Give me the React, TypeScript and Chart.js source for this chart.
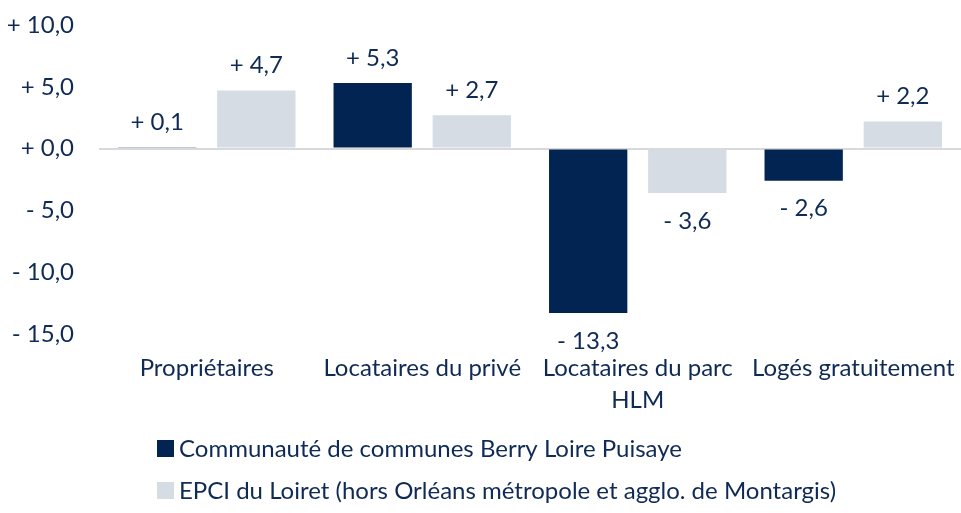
import React, { useEffect, useRef } from "react";
import { Chart, registerables } from "chart.js";

Chart.register(...registerables);

const categories: (string | string[])[] = [
  "Propriétaires",
  "Locataires du privé",
  ["Locataires du parc", "HLM"],
  "Logés gratuitement",
];
const seriesLabels = [
  "Communauté de communes Berry Loire Puisaye",
  "EPCI du Loiret (hors Orléans métropole et agglo. de Montargis)",
];
const ccValues = [0.1, 5.3, -13.3, -2.6];
const epciValues = [4.7, 2.7, -3.6, 2.2];
const yTicks = [10, 5, 0, -5, -10, -15];

const DARK = "#022453";
const LIGHT = "#d6dce4";
const TEXT = "#0f2a55";
const FONT = "Lato, 'Liberation Sans', sans-serif";
const FS = 24;

const fmt = (v: number) =>
  (v >= 0 ? "+ " : "- ") + Math.abs(v).toFixed(1).replace(".", ",");

const valueLabels = {
  id: "valueLabels",
  afterDatasetsDraw(chart: any) {
    const ctx = chart.ctx;
    ctx.save();
    ctx.font = `${FS}px ${FONT}`;
    ctx.fillStyle = TEXT;
    ctx.textAlign = "center";
    ctx.textBaseline = "middle";
    chart.data.datasets.forEach((ds: any, di: number) => {
      const meta = chart.getDatasetMeta(di);
      meta.data.forEach((el: any, i: number) => {
        const v = ds.data[i];
        const y = v >= 0 ? el.y - 25 : el.y + 28;
        ctx.fillText(fmt(v), el.x, y);
      });
    });
    ctx.restore();
  },
};

const customLegend = {
  id: "customLegend",
  afterDraw(chart: any) {
    const ctx = chart.ctx;
    ctx.save();
    ctx.font = `${FS}px ${FONT}`;
    ctx.textAlign = "left";
    ctx.textBaseline = "middle";
    const rows = [448, 490];
    chart.data.datasets.forEach((ds: any, di: number) => {
      const cy = rows[di];
      ctx.fillStyle = ds.backgroundColor;
      ctx.fillRect(157, cy - 8, 17, 17);
      ctx.fillStyle = TEXT;
      ctx.fillText(ds.label, 179, cy + 1);
    });
    ctx.restore();
  },
};

function App() {
  const ref = useRef<HTMLCanvasElement>(null);
  useEffect(() => {
    if (!ref.current) return;
    const chart = new Chart(ref.current, {
      type: "bar",
      data: {
        labels: categories,
        datasets: [
          { label: seriesLabels[0], data: ccValues, backgroundColor: DARK },
          { label: seriesLabels[1], data: epciValues, backgroundColor: LIGHT },
        ],
      },
      options: {
        animation: false,
        responsive: false,
        maintainAspectRatio: false,
        layout: { padding: { top: 25, bottom: 100, left: 0, right: -5 } },
        datasets: {
          bar: { categoryPercentage: 0.92, barPercentage: 0.79 },
        },
        plugins: {
          legend: { display: false },
          tooltip: { enabled: false },
        },
        scales: {
          x: {
            grid: { display: false, drawTicks: false },
            border: { display: false },
            ticks: {
              color: TEXT,
              font: { family: FONT, size: FS, lineHeight: 1.33 },
              padding: 18,
              maxRotation: 0,
              autoSkip: false,
            },
            afterFit(scale: any) {
              scale.height = 79;
              scale.paddingLeft = 0;
              scale.paddingRight = 0;
              scale.paddingTop = 0;
              scale.paddingBottom = 0;
            },
          },
          y: {
            min: -15,
            max: 10,
            afterBuildTicks(scale: any) {
              scale.ticks = yTicks.map((v) => ({ value: v }));
            },
            grid: {
              drawTicks: false,
              color: (c: any) => (c.tick && c.tick.value === 0 ? "#d9d9d9" : "rgba(0,0,0,0)"),
              lineWidth: 2,
            },
            border: { display: false },
            ticks: {
              color: TEXT,
              font: { family: FONT, size: FS },
              padding: 25,
              callback: (v: any) => fmt(Number(v)),
            },
            afterFit(scale: any) {
              scale.width = 99;
              scale.paddingLeft = 0;
              scale.paddingRight = 0;
              scale.paddingTop = 0;
              scale.paddingBottom = 0;
            },
          },
        },
      },
      plugins: [valueLabels, customLegend],
    });
    return () => chart.destroy();
  }, []);
  return (
    <div style={{ position: "fixed", left: 0, top: 0, width: 961, height: 513, background: "#fff" }}>
      <canvas ref={ref} width={961} height={513} style={{ width: 961, height: 513 }} />
    </div>
  );
}

export default App;
